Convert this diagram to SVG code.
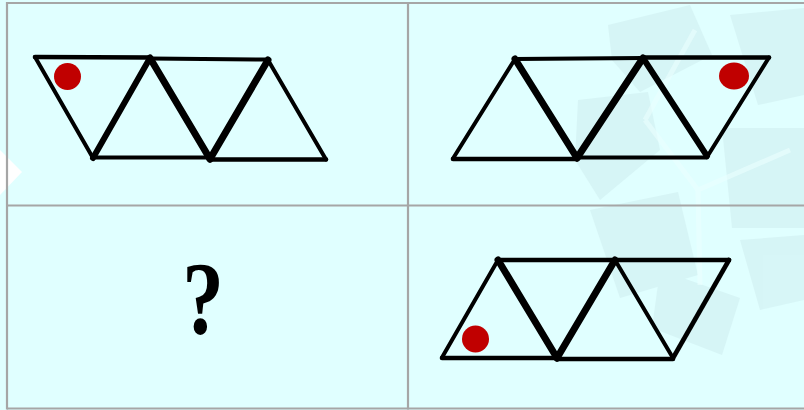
<svg xmlns="http://www.w3.org/2000/svg" width="804" height="410" viewBox="0 0 804 410">
<style>
.grid{stroke:#a6a6a6;stroke-width:2.2;fill:none}
.e{stroke:#000;stroke-linecap:round;stroke-linejoin:round;fill:none}
.t3{stroke-width:4}
.t4{stroke-width:4.6}
.t5{stroke-width:6}
.t6{stroke-width:7}
.dot{fill:#c00000}
.q{font-family:"Liberation Serif",serif;font-size:104px;font-weight:bold;fill:#000}
.wm{fill:#cfeef0;opacity:0.55}
</style>
<rect width="804" height="410" fill="#e0ffff"/>
<g id="watermark">
<polygon points="0,150 22,172 0,195" fill="#ffffff"/>
<g class="wm">
<polygon points="608,25 690,5 712,55 640,92 612,60"/>
<polygon points="578,100 648,92 660,150 600,200 575,160"/>
<polygon points="730,15 804,8 804,95 758,105"/>
<polygon points="590,210 678,192 698,275 620,298"/>
<polygon points="722,128 804,128 804,228 732,228"/>
<polygon points="660,270 740,298 722,355 652,328"/>
<polygon points="740,240 804,235 804,300 760,310"/>
</g>
<g stroke="#ebffff" stroke-width="5" fill="none" opacity="0.6">
<line x1="698" y1="190" x2="645" y2="120"/>
<line x1="698" y1="190" x2="790" y2="150"/>
<line x1="698" y1="190" x2="700" y2="285"/>
<line x1="645" y1="120" x2="695" y2="30"/>
</g>
</g>
<g id="grid">
<line class="grid" x1="7" y1="3" x2="804" y2="3"/>
<line class="grid" x1="7" y1="205.5" x2="804" y2="205.5"/>
<line class="grid" x1="7" y1="408.5" x2="804" y2="408.5"/>
<line class="grid" x1="7" y1="2" x2="7" y2="409.5"/>
<line class="grid" x1="408" y1="2" x2="408" y2="409.5"/>
</g>
<g id="connectors"></g>
<g id="panel1">
<line class="e t4" x1="35" y1="57" x2="150" y2="57.5"/>
<line class="e t3" x1="35" y1="57" x2="93" y2="158"/>
<line class="e t5" x1="93" y1="158" x2="150" y2="58"/>
<line class="e t6" x1="150" y1="58" x2="210" y2="159"/>
<line class="e t3" x1="150" y1="58.5" x2="268" y2="59.5"/>
<line class="e t6" x1="210" y1="159" x2="268" y2="60"/>
<line class="e t3" x1="268" y1="60" x2="326" y2="159.5"/>
<line class="e t3" x1="93" y1="157.5" x2="210" y2="157.5"/>
<line class="e t4" x1="210" y1="159.5" x2="326" y2="159.5"/>
<circle class="dot" cx="67.5" cy="76.5" r="13.5"/>
</g>
<g id="panel2">
<line class="e t3" x1="453" y1="158.5" x2="515" y2="59"/>
<line class="e t6" x1="515" y1="59" x2="577" y2="158"/>
<line class="e t3" x1="515" y1="59" x2="643" y2="58"/>
<line class="e t6" x1="577" y1="158" x2="643" y2="58"/>
<line class="e t5" x1="643" y1="58" x2="707" y2="156"/>
<line class="e t4" x1="643" y1="57.5" x2="769" y2="57.5"/>
<line class="e t3" x1="769" y1="57.5" x2="707" y2="157"/>
<line class="e t4" x1="453" y1="159" x2="577" y2="159"/>
<line class="e t3" x1="577" y1="157.5" x2="707" y2="157.5"/>
<ellipse class="dot" cx="734" cy="76" rx="15" ry="13.5"/>
</g>
<g id="panel3">
<text class="q" x="203" y="334" text-anchor="middle" transform="translate(203 0) scale(0.8 1) translate(-203 0)">?</text>
</g>
<g id="panel4">
<line class="e t3" x1="442" y1="357.5" x2="498" y2="260"/>
<line class="e t6" x1="498" y1="260" x2="557" y2="358"/>
<line class="e t4" x1="498" y1="260" x2="615" y2="260"/>
<line class="e t6" x1="557" y1="358" x2="615" y2="260"/>
<line class="e t3" x1="615" y1="260" x2="673" y2="358"/>
<line class="e t4" x1="615" y1="260" x2="729" y2="260"/>
<line class="e t4" x1="729" y1="260" x2="673" y2="358"/>
<line class="e t4" x1="442" y1="358" x2="557" y2="358"/>
<line class="e t4" x1="557" y1="359" x2="673" y2="359"/>
<circle class="dot" cx="475.5" cy="339" r="13.5"/>
</g>
</svg>
